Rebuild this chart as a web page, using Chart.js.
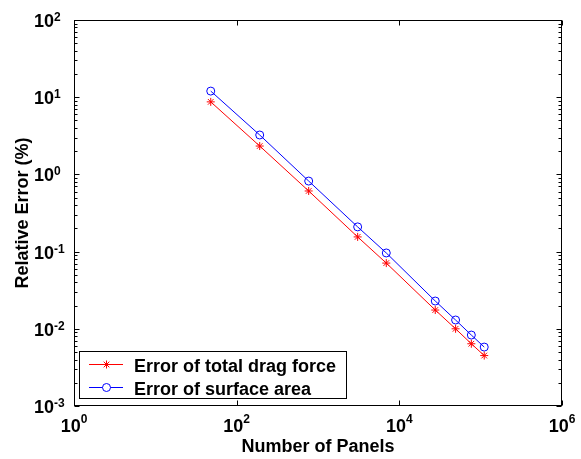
<!DOCTYPE html>
<html>
<head>
<meta charset="utf-8">
<script src="https://cdn.jsdelivr.net/npm/chart.js@4.4.1/dist/chart.umd.min.js"></script>
<style>
  body { margin: 0; background: #fff; }
  #wrap { width: 581px; height: 459px; }
</style>
</head>
<body>
<div id="wrap"><canvas id="chart" width="581" height="459"></canvas></div>
<script>
// data
const panels = [48, 192, 768, 3072, 6912, 27648, 49152, 76800, 110592];
const dragError = [8.7, 2.33, 0.61, 0.155, 0.071, 0.0175, 0.0100, 0.0064, 0.0045];
const areaError = [12.0, 3.24, 0.82, 0.209, 0.096, 0.0229, 0.0130, 0.0083, 0.0058];
const seriesNames = ['Error of total drag force', 'Error of surface area'];
const xTickPowers = [0, 2, 4, 6];
const yTickPowers = [-3, -2, -1, 0, 1, 2];
const xTitle = 'Number of Panels';
const yTitle = 'Relative Error (%)';

const FONT = "'Liberation Sans', Arial, Helvetica, sans-serif";

// matlab style axes: box, inward ticks, 10^n labels, legend inside
const matlabAxes = {
    id: 'matlabAxes',
    afterDraw(chart) {
        const ctx = chart.ctx;
        const a = chart.chartArea;
        const xs = chart.scales.x;
        const ys = chart.scales.y;
        const L = Math.round(a.left) + 0.5, R = Math.round(a.right) - 0.5;
        const T = Math.round(a.top) + 0.5, B = Math.round(a.bottom) - 0.5;

        ctx.save();
        ctx.strokeStyle = '#000';
        ctx.lineWidth = 1;
        ctx.strokeRect(L, T, R - L, B - T);

        // x ticks (major only)
        ctx.beginPath();
        xTickPowers.forEach(p => {
            const px = Math.round(xs.getPixelForValue(Math.pow(10, p))) + 0.5;
            ctx.moveTo(px, B); ctx.lineTo(px, B - 5);
            ctx.moveTo(px, T); ctx.lineTo(px, T + 5);
        });
        // y ticks, major and minor
        yTickPowers.forEach((p, i) => {
            const py = Math.round(ys.getPixelForValue(Math.pow(10, p))) + 0.5;
            ctx.moveTo(L, py); ctx.lineTo(L + 5, py);
            ctx.moveTo(R, py); ctx.lineTo(R - 5, py);
            if (i < yTickPowers.length - 1) {
                for (let m = 2; m <= 9; m++) {
                    const my = Math.round(ys.getPixelForValue(m * Math.pow(10, p))) + 0.5;
                    ctx.moveTo(L, my); ctx.lineTo(L + 3, my);
                    ctx.moveTo(R, my); ctx.lineTo(R - 3, my);
                }
            }
        });
        ctx.stroke();

        // tick labels
        ctx.fillStyle = '#000';
        ctx.textBaseline = 'alphabetic';
        const big = 'bold 18px ' + FONT, small = 'bold 12px ' + FONT;
        xTickPowers.forEach(p => {
            const px = xs.getPixelForValue(Math.pow(10, p));
            ctx.font = big;
            const w1 = ctx.measureText('10').width;
            ctx.font = small;
            const w2 = ctx.measureText(String(p)).width;
            const x0 = px - (w1 + w2) / 2;
            ctx.font = big;
            ctx.textAlign = 'left';
            ctx.fillText('10', x0, B + 26);
            ctx.font = small;
            ctx.fillText(String(p), x0 + w1, B + 17);
        });
        yTickPowers.forEach(p => {
            const py = ys.getPixelForValue(Math.pow(10, p));
            ctx.font = big;
            ctx.textAlign = 'right';
            ctx.fillText('10', 54, py + 7);
            ctx.font = small;
            ctx.textAlign = 'left';
            ctx.fillText(p < 0 ? '-' + Math.abs(p) : String(p), 54, py + 1);
        });

        // axis titles
        ctx.font = 'bold 18px ' + FONT;
        ctx.textAlign = 'center';
        ctx.fillText(xTitle, (a.left + a.right) / 2, 452);
        ctx.save();
        ctx.translate(28, (a.top + a.bottom) / 2);
        ctx.rotate(-Math.PI / 2);
        ctx.fillText(yTitle, 0, 0);
        ctx.restore();

        // legend box
        const lx = 79.5, ly = 351.5, lw = 267, lh = 47;
        ctx.fillStyle = '#fff';
        ctx.fillRect(lx, ly, lw, lh);
        ctx.strokeStyle = '#000';
        ctx.strokeRect(lx, ly, lw, lh);
        chart.data.datasets.forEach((ds, i) => {
            const yy = 364.5 + i * 23;
            ctx.strokeStyle = ds.borderColor;
            ctx.lineWidth = 1;
            ctx.beginPath();
            ctx.moveTo(89, yy); ctx.lineTo(123, yy);
            ctx.stroke();
            ctx.fillStyle = '#fff';
            Chart.helpers.drawPoint(ctx, {
                pointStyle: ds.pointStyle, radius: ds.pointRadius, rotation: 0,
                borderWidth: 1
            }, 106.5, yy);
            ctx.fillStyle = '#000';
            ctx.font = 'bold 18px ' + FONT;
            ctx.textAlign = 'left';
            ctx.fillText(ds.label, 134, yy + 7);
        });
        ctx.restore();
    }
};

new Chart(document.getElementById('chart'), {
    type: 'line',
    data: {
        datasets: [{
            label: seriesNames[0],
            data: panels.map((n, i) => ({ x: n, y: dragError[i] })),
            borderColor: 'rgb(255, 0, 0)',
            backgroundColor: 'rgba(0, 0, 0, 0)',
            borderWidth: 1,
            pointStyle: 'star',
            pointRadius: 4,
            pointBorderWidth: 1
        }, {
            label: seriesNames[1],
            data: panels.map((n, i) => ({ x: n, y: areaError[i] })),
            borderColor: 'rgb(0, 0, 255)',
            backgroundColor: 'rgba(0, 0, 0, 0)',
            borderWidth: 1,
            pointStyle: 'circle',
            pointRadius: 4,
            pointBorderWidth: 1
        }]
    },
    options: {
        responsive: false,
        animation: false,
        layout: { padding: { left: 74, top: 20, right: 19, bottom: 53 } },
        plugins: { legend: { display: false }, tooltip: { enabled: false } },
        scales: {
            x: { type: 'logarithmic', min: 1, max: 1e6, display: false },
            y: { type: 'logarithmic', min: 1e-3, max: 1e2, display: false }
        }
    },
    plugins: [matlabAxes]
});
</script>
</body>
</html>
